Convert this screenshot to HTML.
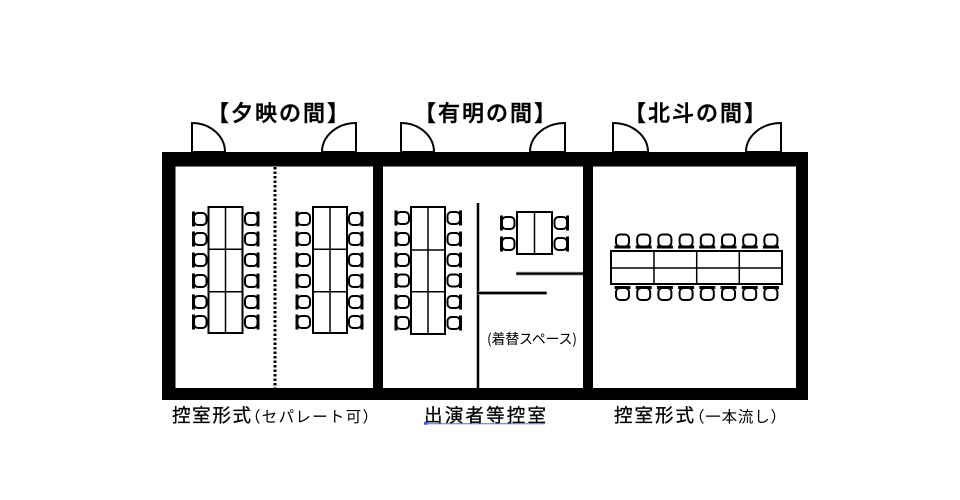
<!DOCTYPE html>
<html><head><meta charset="utf-8"><style>
html,body{margin:0;padding:0;background:#fff;}
svg{display:block;}
text{font-family:"Noto Sans CJK JP","Liberation Sans",sans-serif;fill:#000;}
</style></head><body>
<svg width="960" height="500" viewBox="0 0 960 500" xmlns="http://www.w3.org/2000/svg">
<defs>
<g id="cL">
 <rect x="2" y="1" width="12.5" height="12" rx="4" fill="#fff" stroke="#000" stroke-width="2"/>
 <line x1="1.5" y1="-0.5" x2="1.5" y2="14.5" stroke="#000" stroke-width="3"/>
</g>
<g id="cR">
 <rect x="0.5" y="1" width="12.5" height="12" rx="4" fill="#fff" stroke="#000" stroke-width="2"/>
 <line x1="13.5" y1="-0.5" x2="13.5" y2="14.5" stroke="#000" stroke-width="3"/>
</g>
<g id="cT">
 <rect x="1" y="1" width="13" height="12" rx="4" fill="#fff" stroke="#000" stroke-width="2"/>
 <line x1="-0.5" y1="13.5" x2="15.5" y2="13.5" stroke="#000" stroke-width="3"/>
</g>
<g id="cB">
 <rect x="1" y="2" width="13" height="12" rx="4" fill="#fff" stroke="#000" stroke-width="2"/>
 <line x1="-0.5" y1="1.5" x2="15.5" y2="1.5" stroke="#000" stroke-width="3"/>
</g>
</defs>

<!-- titles -->
<text x="207" y="121" font-size="22" font-weight="500" stroke="#000" stroke-width="0.5" textLength="142" lengthAdjust="spacing">【夕映の間】</text>
<text x="414" y="121" font-size="22" font-weight="500" stroke="#000" stroke-width="0.5" textLength="142" lengthAdjust="spacing">【有明の間】</text>
<text x="624" y="121" font-size="22" font-weight="500" stroke="#000" stroke-width="0.5" textLength="142" lengthAdjust="spacing">【北斗の間】</text>

<!-- walls -->
<rect x="162" y="152" width="646" height="248" fill="#000"/>
<rect x="175.5" y="166.5" width="197.5" height="221.5" fill="#fff"/>
<rect x="383" y="166.5" width="200" height="221.5" fill="#fff"/>
<rect x="593" y="166.5" width="203" height="221.5" fill="#fff"/>

<!-- doors -->
<g fill="#fff" stroke="#000" stroke-width="2">
 <path d="M192 152 L192 123 A33 29 0 0 1 225 152 Z"/>
 <path d="M356 152 L356 123 A34 29 0 0 0 322 152 Z"/>
 <path d="M401 152 L401 123 A33 29 0 0 1 434 152 Z"/>
 <path d="M565 152 L565 123 A35 29 0 0 0 530 152 Z"/>
 <path d="M613 152 L613 123 A35 29 0 0 1 648 152 Z"/>
 <path d="M781 152 L781 123 A35 29 0 0 0 746 152 Z"/>
</g>
<rect x="162" y="152" width="646" height="14.5" fill="#000"/>

<!-- dotted separator -->
<line x1="275" y1="167" x2="275" y2="388" stroke="#000" stroke-width="3" stroke-dasharray="2.5 2"/>

<!-- room 2 partitions -->
<line x1="478" y1="203" x2="478" y2="388" stroke="#000" stroke-width="2.5"/>
<rect x="516" y="271.8" width="67" height="3.6" fill="#8a8a8a"/>
<line x1="516.5" y1="273.6" x2="583" y2="273.6" stroke="#000" stroke-width="2"/>
<rect x="478" y="291.2" width="69" height="3.6" fill="#8a8a8a"/>
<line x1="478" y1="293" x2="546.5" y2="293" stroke="#000" stroke-width="2"/>

<!-- tables -->
<g fill="#fff" stroke="#000" stroke-width="2">
 <rect x="208.5" y="207" width="34" height="126"/>
 <rect x="313" y="207" width="34" height="126"/>
 <rect x="411" y="207" width="34" height="127"/>
 <rect x="517" y="212" width="35" height="42"/>
 <rect x="611" y="251" width="171" height="33"/>
</g>
<g stroke="#000" stroke-width="1.5">
 <line x1="225.5" y1="207" x2="225.5" y2="333"/>
 <line x1="208.5" y1="249.3" x2="242.5" y2="249.3"/>
 <line x1="208.5" y1="291.7" x2="242.5" y2="291.7"/>
 <line x1="330" y1="207" x2="330" y2="333"/>
 <line x1="313" y1="249.3" x2="347" y2="249.3"/>
 <line x1="313" y1="291.7" x2="347" y2="291.7"/>
 <line x1="428" y1="207" x2="428" y2="334"/>
 <line x1="411" y1="250" x2="445" y2="250"/>
 <line x1="411" y1="291.7" x2="445" y2="291.7"/>
 <line x1="534.5" y1="212" x2="534.5" y2="254"/>
 <line x1="611" y1="268" x2="782" y2="268"/>
 <line x1="654" y1="251" x2="654" y2="284"/>
 <line x1="696.7" y1="251" x2="696.7" y2="284"/>
 <line x1="739.3" y1="251" x2="739.3" y2="284"/>
</g>

<!-- chairs room1 table1 -->
<use href="#cL" x="192" y="212"/><use href="#cL" x="192" y="232"/><use href="#cL" x="192" y="253"/>
<use href="#cL" x="192" y="274"/><use href="#cL" x="192" y="295"/><use href="#cL" x="192" y="315"/>
<use href="#cR" x="244.5" y="212"/><use href="#cR" x="244.5" y="232"/><use href="#cR" x="244.5" y="253"/>
<use href="#cR" x="244.5" y="274"/><use href="#cR" x="244.5" y="295"/><use href="#cR" x="244.5" y="315"/>
<!-- room1 table2 -->
<use href="#cL" x="295.5" y="212"/><use href="#cL" x="295.5" y="232"/><use href="#cL" x="295.5" y="253"/>
<use href="#cL" x="295.5" y="274"/><use href="#cL" x="295.5" y="295"/><use href="#cL" x="295.5" y="315"/>
<use href="#cR" x="348.5" y="212"/><use href="#cR" x="348.5" y="232"/><use href="#cR" x="348.5" y="253"/>
<use href="#cR" x="348.5" y="274"/><use href="#cR" x="348.5" y="295"/><use href="#cR" x="348.5" y="315"/>
<!-- room2 table -->
<use href="#cL" x="394.5" y="211"/><use href="#cL" x="394.5" y="232"/><use href="#cL" x="394.5" y="253"/>
<use href="#cL" x="394.5" y="273.5"/><use href="#cL" x="394.5" y="295"/><use href="#cL" x="394.5" y="316"/>
<use href="#cR" x="447" y="211"/><use href="#cR" x="447" y="232"/><use href="#cR" x="447" y="253"/>
<use href="#cR" x="447" y="273.5"/><use href="#cR" x="447" y="295"/><use href="#cR" x="447" y="316"/>
<!-- room2 small table -->
<use href="#cL" x="500" y="216"/><use href="#cL" x="500" y="237"/>
<use href="#cR" x="554" y="216"/><use href="#cR" x="554" y="237"/>
<!-- room3 -->
<use href="#cT" x="615" y="233.5"/><use href="#cT" x="636.2" y="233.5"/><use href="#cT" x="657.4" y="233.5"/><use href="#cT" x="678.6" y="233.5"/>
<use href="#cT" x="699.8" y="233.5"/><use href="#cT" x="721" y="233.5"/><use href="#cT" x="742.2" y="233.5"/><use href="#cT" x="763.4" y="233.5"/>
<use href="#cB" x="615" y="286"/><use href="#cB" x="636.2" y="286"/><use href="#cB" x="657.4" y="286"/><use href="#cB" x="678.6" y="286"/>
<use href="#cB" x="699.8" y="286"/><use href="#cB" x="721" y="286"/><use href="#cB" x="742.2" y="286"/><use href="#cB" x="763.4" y="286"/>

<!-- inner label -->
<text x="487" y="344" font-size="14" textLength="90" lengthAdjust="spacing">(着替スペース)</text>

<!-- bottom labels -->
<text x="172" y="422" font-size="18.5" stroke="#000" stroke-width="0.3" textLength="79" lengthAdjust="spacing">控室形式</text>
<text x="245" y="422" font-size="15.5" textLength="133" lengthAdjust="spacing">（セパレート可）</text>

<text x="424" y="422" font-size="18.5" stroke="#000" stroke-width="0.3" textLength="122" lengthAdjust="spacing">出演者等控室</text>
<line x1="424" y1="423.8" x2="545" y2="423.8" stroke="#5a6fd0" stroke-width="1"/>
<rect x="424" y="421.8" width="3.5" height="3" fill="#3b5bdb"/>

<text x="614" y="422" font-size="18.5" stroke="#000" stroke-width="0.3" textLength="80" lengthAdjust="spacing">控室形式</text>
<text x="689" y="422" font-size="15.5" textLength="97" lengthAdjust="spacing">（一本流し）</text>
</svg>
</body></html>
